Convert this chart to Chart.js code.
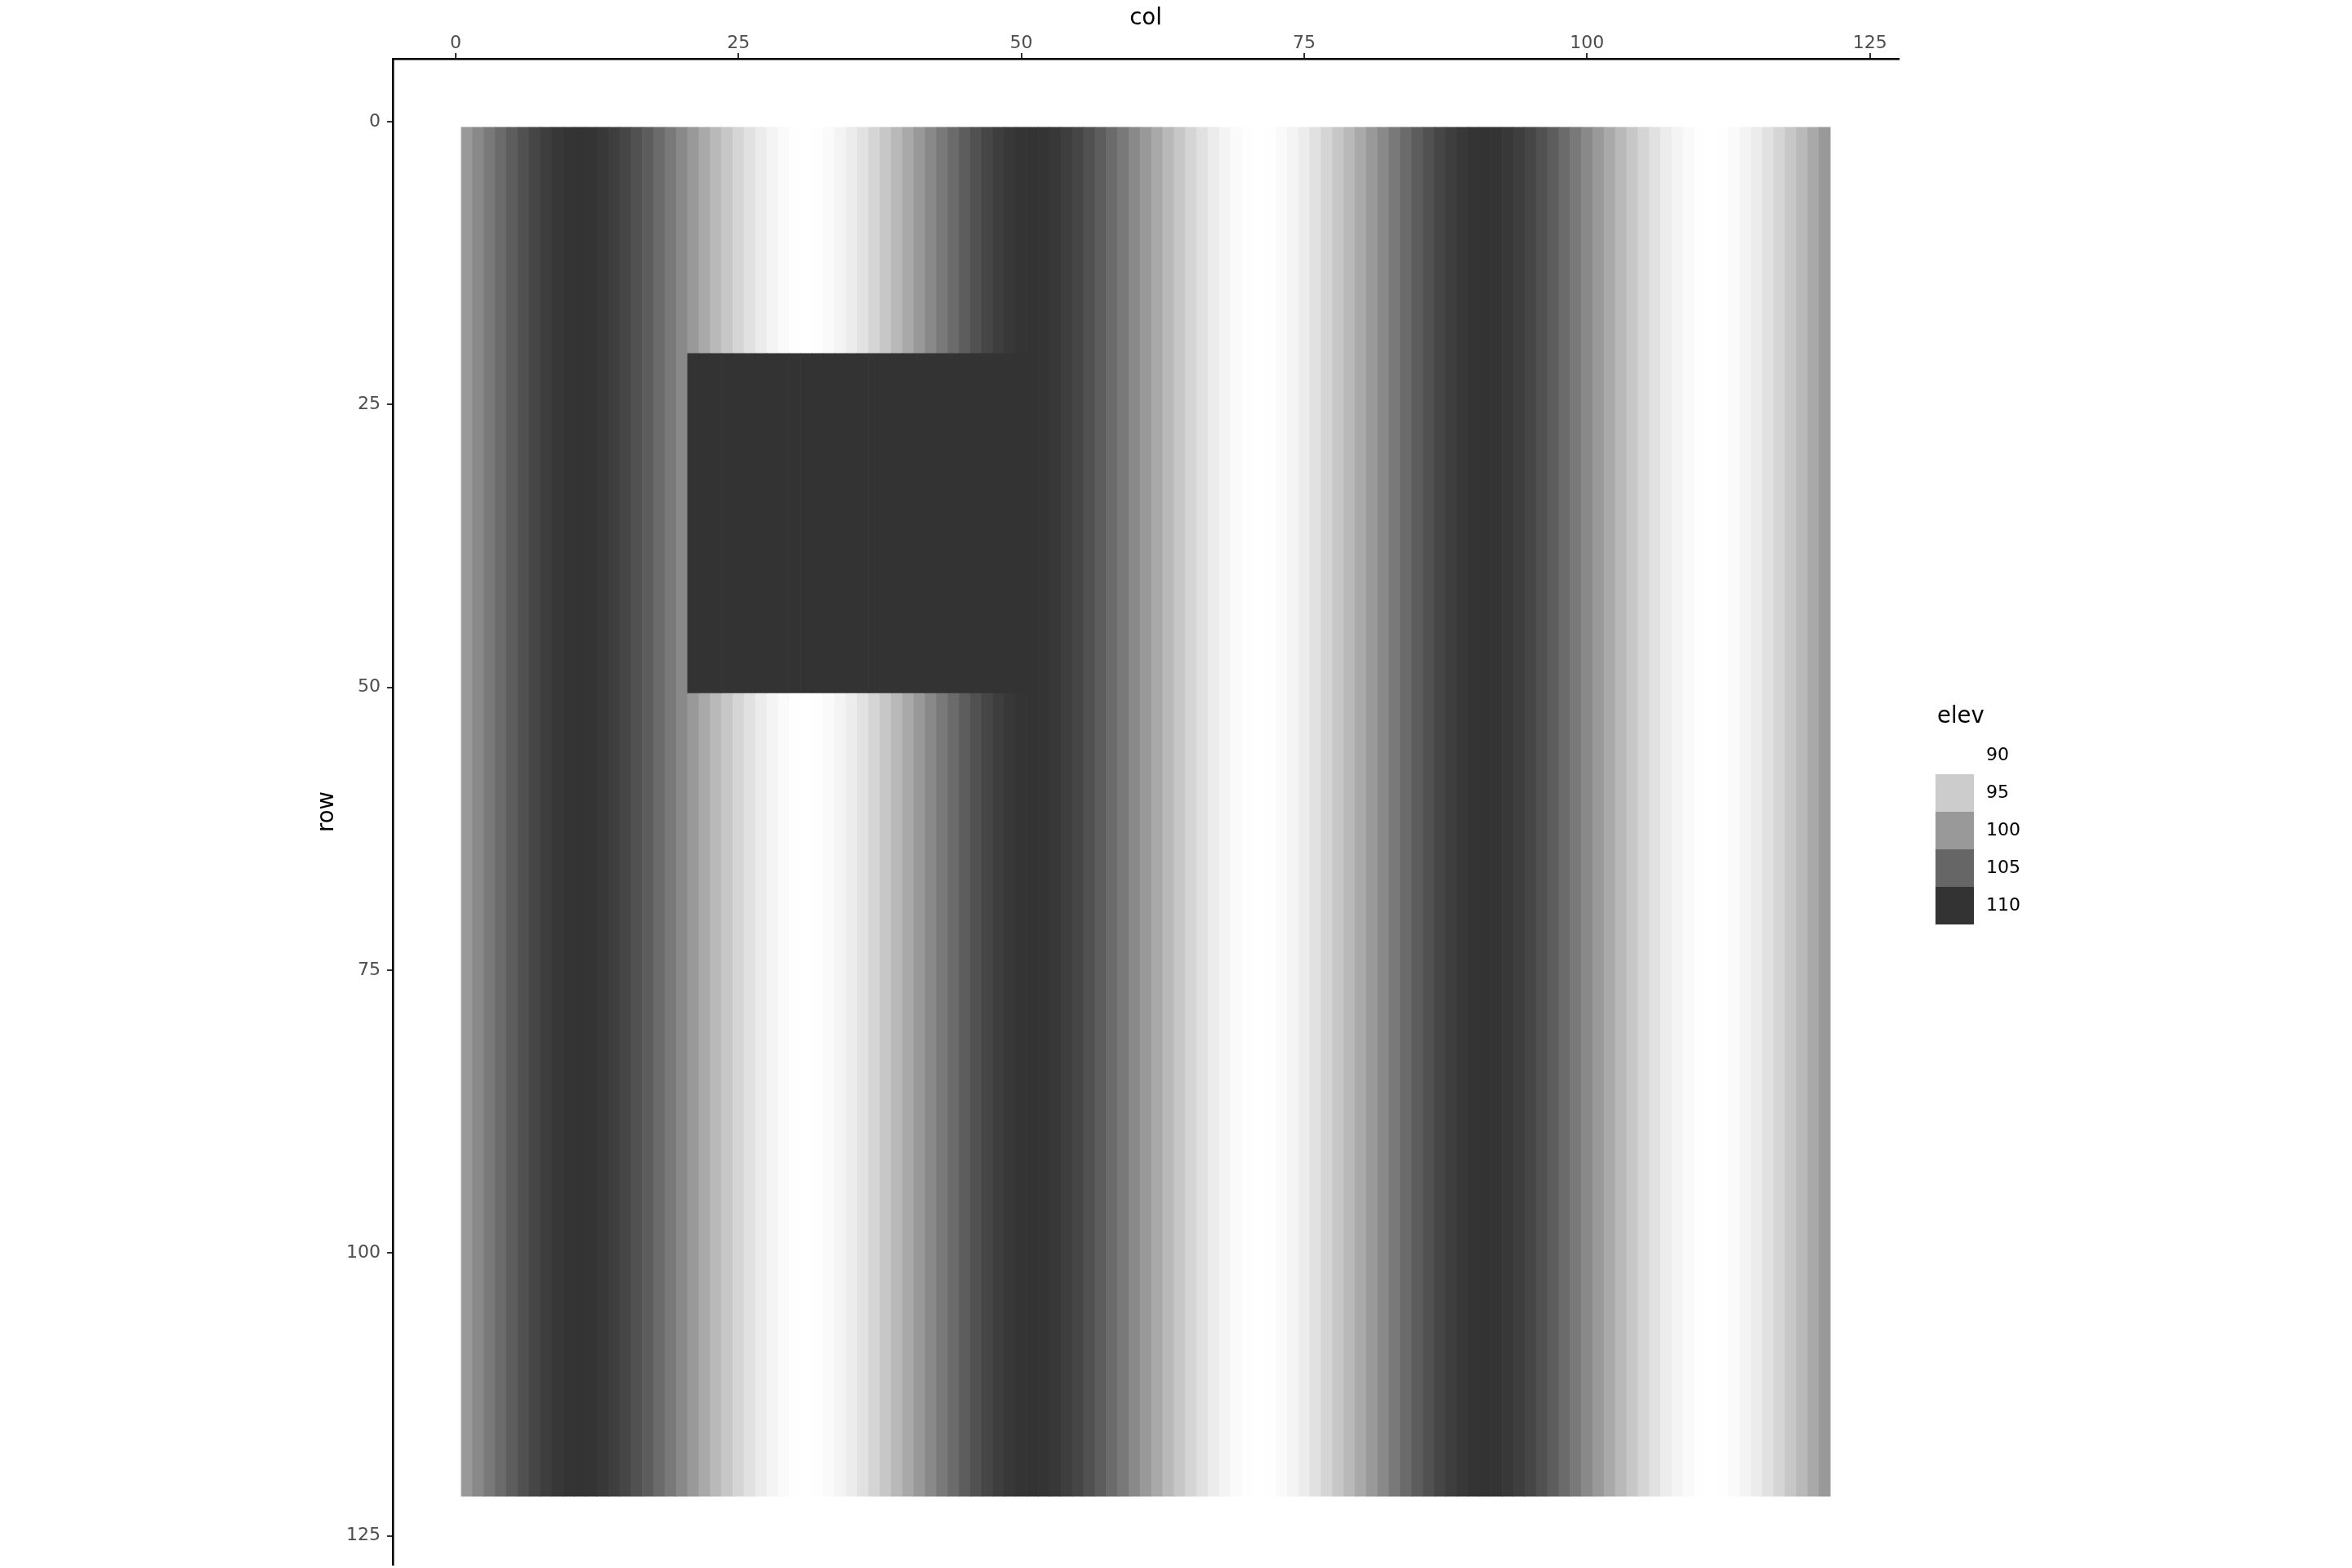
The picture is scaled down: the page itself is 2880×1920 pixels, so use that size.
<!DOCTYPE html>
<html>
<head>
<meta charset="utf-8">
<script src="https://cdn.jsdelivr.net/npm/chart.js@4.4.1/dist/chart.umd.min.js"></script>
<style>
  html, body { margin: 0; padding: 0; background: #ffffff; }
  #wrap { width: 2880px; height: 1920px; }
</style>
</head>
<body>
<div id="wrap"><canvas id="c" width="2880" height="1920"></canvas></div>
<script>
// ---- data ----
// elevation for each column (col 1 .. 121); every row shares this profile
const elevByCol = [
  100.0, 101.6, 103.1, 104.5, 105.9, 107.1, 108.1, 108.9, 109.5, 109.9,
  110.0, 109.9, 109.5, 108.9, 108.1, 107.1, 105.9, 104.5, 103.1, 101.6,
  100.0,  98.4,  96.9,  95.5,  94.1,  92.9,  91.9,  91.1,  90.5,  90.1,
   90.0,  90.1,  90.5,  91.1,  91.9,  92.9,  94.1,  95.5,  96.9,  98.4,
  100.0, 101.6, 103.1, 104.5, 105.9, 107.1, 108.1, 108.9, 109.5, 109.9,
  110.0, 109.9, 109.5, 108.9, 108.1, 107.1, 105.9, 104.5, 103.1, 101.6,
  100.0,  98.4,  96.9,  95.5,  94.1,  92.9,  91.9,  91.1,  90.5,  90.1,
   90.0,  90.1,  90.5,  91.1,  91.9,  92.9,  94.1,  95.5,  96.9,  98.4,
  100.0, 101.6, 103.1, 104.5, 105.9, 107.1, 108.1, 108.9, 109.5, 109.9,
  110.0, 109.9, 109.5, 108.9, 108.1, 107.1, 105.9, 104.5, 103.1, 101.6,
  100.0,  98.4,  96.9,  95.5,  94.1,  92.9,  91.9,  91.1,  90.5,  90.1,
   90.0,  90.1,  90.5,  91.1,  91.9,  92.9,  94.1,  95.5,  96.9,  98.4,
  100.0
];
const rowCount = 121;               // rows 1 .. 121
const blockRows = [21, 50];         // raised block: first and last row
const blockCols = [21, 50];         // raised block: first and last column
const blockElev = 110;              // elevation inside the block
const axisTicks = [0, 25, 50, 75, 100, 125];
const legendValues = [90, 95, 100, 105, 110];
const elevLimits = [90, 110];

// ---- colour scale: white (low) -> #333333 (high) ----
function shade(v) {
  const t = Math.max(0, Math.min(1, (v - elevLimits[0]) / (elevLimits[1] - elevLimits[0])));
  const g = Math.round(255 + (51 - 255) * t);
  return 'rgb(' + g + ',' + g + ',' + g + ')';
}

const stripeData = elevByCol.map((v, i) => ({ x: i + 1, y: [0.5, rowCount + 0.5] }));
const stripeColors = elevByCol.map(shade);

const blockData = [];
for (let c = blockCols[0]; c <= blockCols[1]; c++) {
  blockData.push({ x: c, y: [blockRows[0] - 0.5, blockRows[1] + 0.5] });
}
const blockColors = blockData.map(() => shade(blockElev));

const FONT = 'DejaVu Sans';
const lo = -5.55, hi = 127.55;

const legendPlugin = {
  id: 'elevLegend',
  afterDraw(chart) {
    const ctx = chart.ctx;
    const ca = chart.chartArea;
    const left = ca.right + 45;
    const mid = (ca.top + ca.bottom) / 2;
    const key = 46;
    const top = mid - 92;
    ctx.save();
    ctx.fillStyle = '#000000';
    ctx.font = '27.5px "' + FONT + '"';
    ctx.textAlign = 'left';
    ctx.textBaseline = 'alphabetic';
    ctx.fillText('elev', left + 2, top - 17);
    legendValues.forEach((v, i) => {
      const y0 = top + i * key;
      ctx.fillStyle = shade(v);
      ctx.fillRect(left, y0, 47, key);
      ctx.fillStyle = '#000000';
      ctx.font = '22px "' + FONT + '"';
      ctx.textBaseline = 'middle';
      ctx.fillText(String(v), left + 62, y0 + key / 2);
    });
    ctx.restore();
  }
};

new Chart(document.getElementById('c'), {
  type: 'bar',
  data: {
    datasets: [
      {
        label: 'block',
        data: blockData,
        backgroundColor: blockColors,
        borderWidth: 0,
        grouped: false,
        barPercentage: 1,
        categoryPercentage: 1,
        order: 0
      },
      {
        label: 'elev',
        data: stripeData,
        backgroundColor: stripeColors,
        borderWidth: 0,
        grouped: false,
        barPercentage: 1,
        categoryPercentage: 1,
        order: 1
      }
    ]
  },
  options: {
    responsive: false,
    animation: false,
    devicePixelRatio: 1,
    layout: { padding: { left: 384, right: 555, top: 0, bottom: 4 } },
    plugins: { legend: { display: false }, tooltip: { enabled: false } },
    scales: {
      x: {
        type: 'linear',
        position: 'top',
        min: lo, max: hi,
        offset: false,
        grid: { display: true, offset: false, drawOnChartArea: false, drawTicks: true, tickLength: 7, color: '#333333', lineWidth: 2 },
        border: { display: true, color: '#000000', width: 2.5 },
        ticks: { color: '#4d4d4d', font: { family: FONT, size: 22 }, padding: -1, maxRotation: 0, autoSkip: false, includeBounds: false,
                 callback: v => String(v) },
        afterBuildTicks: s => { s.ticks = axisTicks.map(v => ({ value: v })); },
        title: { display: true, text: 'col', color: '#000000', font: { family: FONT, size: 27.5 }, padding: { top: 6, bottom: 0 } },
        afterFit: s => { s.height = 72; s.paddingLeft = 0; s.paddingRight = 0; }
      },
      y: {
        type: 'linear',
        position: 'left',
        reverse: true,
        min: lo, max: hi,
        beginAtZero: false,
        grid: { display: true, drawOnChartArea: false, drawTicks: true, tickLength: 7, color: '#333333', lineWidth: 2 },
        border: { display: true, color: '#000000', width: 2.5 },
        ticks: { color: '#4d4d4d', font: { family: FONT, size: 22 }, padding: 8, autoSkip: false, includeBounds: false,
                 callback: v => String(v) },
        afterBuildTicks: s => { s.ticks = axisTicks.map(v => ({ value: v })); },
        title: { display: true, text: 'row', color: '#000000', font: { family: FONT, size: 27.5 }, padding: { top: 0, bottom: 0 } },
        afterFit: s => { s.width = 97; s.paddingTop = 0; s.paddingBottom = 0; }
      }
    }
  },
  plugins: [legendPlugin]
});
</script>
</body>
</html>
